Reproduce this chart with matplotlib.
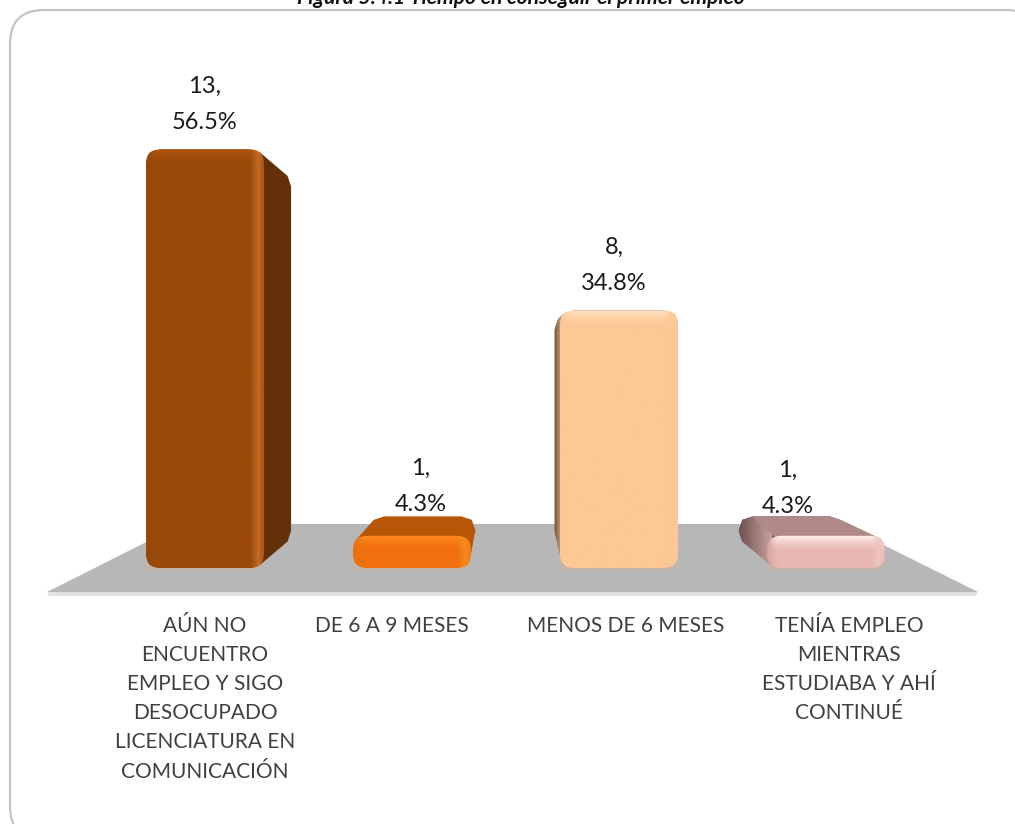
import numpy as np
import matplotlib
matplotlib.use("Agg")
import matplotlib.pyplot as plt
from matplotlib.patches import PathPatch, Polygon, FancyBboxPatch
from matplotlib.path import Path

plt.rcParams['font.family'] = ['Lato', 'DejaVu Sans']

# datos
categorias = ["AÚN NO\nENCUENTRO\nEMPLEO Y SIGO\nDESOCUPADO\nLICENCIATURA EN\nCOMUNICACIÓN",
              "DE 6 A 9 MESES",
              "MENOS DE 6 MESES",
              "TENÍA EMPLEO\nMIENTRAS\nESTUDIABA Y AHÍ\nCONTINUÉ"]
conteos = [13, 1, 8, 1]
porcentajes = ["56.5%", "4.3%", "34.8%", "4.3%"]
titulo = "Figura 5.4.1 Tiempo en conseguir el primer empleo"

# estilo de cada barra: frente, lado, arriba, bisel arriba, bisel izq, bisel der
colores = [("#9a4a0a", "#63300a", "#8a4208", "#b0540c", "#94480a", "#c46a22"),
           ("#f0700f", "#b65408", "#b85608", "#ff8a1c", "#e8700f", "#f78a1a"),
           ("#fdc895", "#7a5c44", "#ffe0bc", "#ffe2c4", "#fdc895", "#fbc896"),
           ("#e9b7b3", "#6f5252", "#b08a88", "#fff0ee", "#d0a4a0", "#eec4c0")]

W, H = 1015, 824
PX_X = 207.0    # px por categoria
PX_Y = 32.2     # px por unidad
X0, Y0 = 205.0, 568.0
VX, VY = (510 - X0) / PX_X, (Y0 - 359) / PX_Y   # punto de fuga
K = 0.89
ANCHO = 118 / PX_X
RX, RY = 14 / PX_X, 14 / PX_Y


def fondo(x, y, k=K):
    return VX + (x - VX) * k, VY + (y - VY) * k


def caja(x0, x1, y0, y1, rx=RX, ry=RY):
    rx = min(rx, (x1 - x0) / 2)
    ry = min(ry, (y1 - y0) / 2)
    verts = [(x0 + rx, y0), (x1 - rx, y0), (x1, y0), (x1, y0 + ry),
             (x1, y1 - ry), (x1, y1), (x1 - rx, y1),
             (x0 + rx, y1), (x0, y1), (x0, y1 - ry),
             (x0, y0 + ry), (x0, y0), (x0 + rx, y0), (x0 + rx, y0)]
    codes = [Path.MOVETO, Path.LINETO, Path.CURVE3, Path.CURVE3,
             Path.LINETO, Path.CURVE3, Path.CURVE3,
             Path.LINETO, Path.CURVE3, Path.CURVE3,
             Path.LINETO, Path.CURVE3, Path.CURVE3, Path.CLOSEPOLY]
    return Path(verts, codes)


def envolvente(pts):
    # cascara convexa en pixeles para que no dependa de la escala
    pts = sorted(set((round(p[0] * PX_X, 3), round(p[1] * PX_Y, 3)) for p in pts))

    def medio(lista):
        r = []
        for p in lista:
            while len(r) > 1 and ((r[-1][0] - r[-2][0]) * (p[1] - r[-2][1])
                                  - (r[-1][1] - r[-2][1]) * (p[0] - r[-2][0])) <= 0:
                r.pop()
            r.append(p)
        return r[:-1]
    h = medio(pts) + medio(pts[::-1])
    return [(a / PX_X, b / PX_Y) for a, b in h]


def rgb(c):
    return np.array(matplotlib.colors.to_rgb(c))


def frente(ax, x0, x1, v, base, b_top, b_izq, b_der):
    # gradiente del frente con bisel en los bordes
    w = int((x1 - x0) * PX_X)
    h = int(v * PX_Y)
    yy, xx = np.mgrid[0:h, 0:w]
    img = np.ones((h, w, 3)) * rgb(base)
    t_top = np.clip(1 - yy / 15, 0, 1)[..., None] ** 1.5
    t_izq = np.clip(1 - xx / 11, 0, 1)[..., None] ** 1.5
    # la franja clara de la derecha queda un poco adentro del borde
    t_der = np.clip(1 - np.abs(w - 1 - xx - 5) / 8, 0, 1)[..., None]
    for t, col in [(t_top, b_top), (t_izq, b_izq), (t_der, b_der)]:
        img = img * (1 - t) + rgb(col) * t
    im = ax.imshow(img, extent=(x0, x1, 0, v), origin="upper", aspect="auto", zorder=6,
                   interpolation="bilinear")
    im.set_clip_path(PathPatch(caja(x0, x1, 0, v), transform=ax.transData))


fig = plt.figure(figsize=(W / 100, H / 100), dpi=100)

# capa en pixeles: marco y titulo
fondo_ax = fig.add_axes([0, 0, 1, 1])
fondo_ax.set_xlim(0, W)
fondo_ax.set_ylim(H, 0)
fondo_ax.axis("off")
fondo_ax.add_patch(FancyBboxPatch((10, 10), 1030, 830, boxstyle="round,pad=0,rounding_size=34",
                                  fc="white", ec="#c4c4c4", lw=1.6))
fondo_ax.text(521, 4, titulo, ha="center", va="baseline", fontsize=15.2,
              fontweight="bold", fontstyle="italic", color="#111111", clip_on=False)

# capa del grafico
ax = fig.add_axes([0, 0, 1, 1])
ax.patch.set_alpha(0)
ax.axis("off")

# piso
piso_x0, piso_x1 = (47 - X0) / PX_X, (978 - X0) / PX_X
piso_y = -24 / PX_Y
k_piso = 0.708
bx0, by = fondo(piso_x0, piso_y, k_piso)
bx1, _ = fondo(piso_x1, piso_y, k_piso)
ax.add_patch(Polygon([(piso_x0, piso_y), (piso_x1, piso_y), (bx1, by), (bx0, by)],
                     fc="#b7b7b7", ec="none", zorder=1))
ax.add_patch(Polygon([(piso_x0, piso_y), (piso_x1, piso_y),
                      (piso_x1 - 0.01, piso_y - 4 / PX_Y), (piso_x0 + 0.01, piso_y - 4 / PX_Y)],
                     fc="#e2e2e2", ec="none", zorder=1))

# barras
for i, v in enumerate(conteos):
    c_front, c_side, c_top, b_top, b_izq, b_der = colores[i]
    x0, x1 = i - ANCHO / 2, i + ANCHO / 2
    bx0, by0 = fondo(x0, 0)
    bx1, by1 = fondo(x1, v)
    # sombra tenue sobre el piso
    ax.add_patch(PathPatch(caja(x0 - 0.005, x1 + 0.005, -4 / PX_Y, 0.3), fc="#c9b5a5", ec="none", alpha=0.5, zorder=2))
    # silueta frente + fondo
    p_front = caja(x0, x1, 0, v).to_polygons(closed_only=False)[0]
    p_back = caja(bx0, bx1, by0, by1).to_polygons(closed_only=False)[0]
    hull = envolvente(list(map(tuple, p_front)) + list(map(tuple, p_back)))
    color_hull = c_top if i == 1 else c_side
    silueta = Polygon(hull, fc=color_hull, ec="none", zorder=3)
    ax.add_patch(silueta)
    if i >= 2:
        # sombreado del lado izquierdo, de oscuro a claro
        ramp = np.linspace(0, 1, 64)[None, :, None]
        fin = rgb(c_front) if i == 2 else rgb("#c8a09c")
        img = rgb(c_side) * (1 - ramp) + fin * ramp
        im = ax.imshow(img, extent=(bx0, x0 + RX * 0.3, 0, max(v, by1)), aspect="auto", zorder=4)
        im.set_clip_path(silueta)
    # cara superior (solo si el tope queda abajo del punto de fuga)
    if v < VY and i != 1:
        tapa = Polygon([(x0 + RX, v - 0.2), (x1 + 0.02, v - 0.2), (bx1 + 0.02, by1), (bx0 + RX, by1)],
                       fc=c_top, ec=c_top, lw=0.5, zorder=5)
        ax.add_patch(tapa)
        tapa.set_clip_path(silueta)
    frente(ax, x0, x1, v, c_front, b_top, b_izq, b_der)

ax.set_xlim(-X0 / PX_X, (W - X0) / PX_X)
ax.set_ylim((Y0 - H) / PX_Y, Y0 / PX_Y)

# etiquetas de datos
corr_x = [0, 9, -5, -38]
corr_y = [16, 21, 16, 19]
for i, v in enumerate(conteos):
    ax.annotate("%d,\n%s" % (v, porcentajes[i]), (i, v), xytext=(corr_x[i] * 0.72, corr_y[i] * 0.72),
                textcoords="offset points", ha="center", va="bottom", fontsize=17,
                color="#1a1a1a", linespacing=1.9, zorder=8)

# etiquetas de categoria
centros_cat = [205, 392, 626, 849]
for i, cat in enumerate(categorias):
    fondo_ax.text(centros_cat[i], 616, cat, ha="center", va="top", fontsize=15,
                  color="#404040", linespacing=1.57, zorder=8)

fig.savefig("out.png", dpi=100)
